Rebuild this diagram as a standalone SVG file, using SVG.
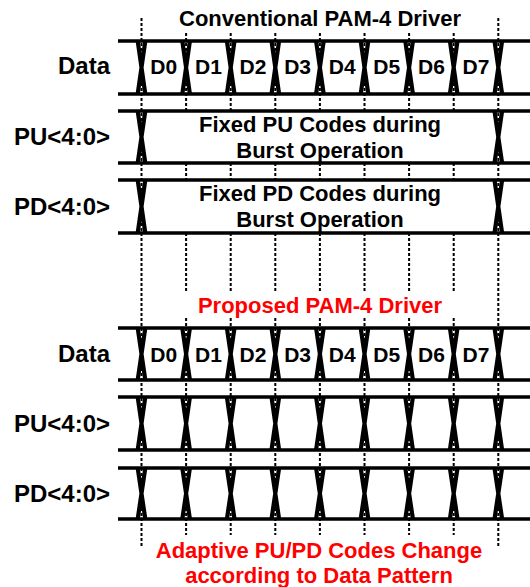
<svg xmlns="http://www.w3.org/2000/svg" width="530" height="587" viewBox="0 0 530 587">
  <style>
    text { font-family: "Liberation Sans", Arial, sans-serif; font-weight: bold; }
    .title { font-size: 22px; text-anchor: middle; fill: #000; }
    .red { fill: #FF0000; }
    .sig { font-size: 24px; text-anchor: end; fill: #000; }
    .sym { font-size: 21px; text-anchor: middle; fill: #000; }
    .note { font-size: 22px; text-anchor: middle; fill: #000; }
    .rail { stroke: #000; stroke-width: 3.5; fill: none; }
    .cross { stroke: #000; stroke-width: 4.2; fill: none; }
    .tick { stroke: #000; stroke-width: 2; stroke-dasharray: 3 2; fill: none; }
  </style>
  <rect width="530" height="587" fill="#fff"/>

  <!-- timing markers (dashed unit-interval boundaries) -->
  <g id="connectors">
    <path class="tick" d="M141.5 18V546 M498.3 18V546"/>
    <path class="tick" d="M186.1 33V111 M186.1 163V180 M186.1 233V292 M186.1 318V535"/>
    <path class="tick" d="M230.7 33V111 M230.7 163V180 M230.7 233V292 M230.7 318V535"/>
    <path class="tick" d="M275.3 33V111 M275.3 163V180 M275.3 233V292 M275.3 318V535"/>
    <path class="tick" d="M319.9 33V111 M319.9 163V180 M319.9 233V292 M319.9 318V535"/>
    <path class="tick" d="M364.5 33V111 M364.5 163V180 M364.5 233V292 M364.5 318V535"/>
    <path class="tick" d="M409.1 33V111 M409.1 163V180 M409.1 233V292 M409.1 318V535"/>
    <path class="tick" d="M453.7 33V111 M453.7 163V180 M453.7 233V292 M453.7 318V535"/>
  </g>

  <!-- conventional driver -->
  <g id="title-conventional">
    <text class="title" x="320" y="26">Conventional PAM-4 Driver</text>
  </g>

  <g id="conv-data">
    <text class="sig" x="110" y="74">Data</text>
    <path class="rail" d="M118 41H530 M118 94H530"/>
    <path class="cross" d="M137.7 41L145.3 94M145.3 41L137.7 94 M182.3 41L189.9 94M189.9 41L182.3 94 M226.9 41L234.5 94M234.5 41L226.9 94 M271.5 41L279.1 94M279.1 41L271.5 94 M316.1 41L323.7 94M323.7 41L316.1 94 M360.7 41L368.3 94M368.3 41L360.7 94 M405.3 41L412.9 94M412.9 41L405.3 94 M449.9 41L457.5 94M457.5 41L449.9 94 M494.5 41L502.1 94M502.1 41L494.5 94"/>
    <text class="sym" x="163.8" y="74">D0</text>
    <text class="sym" x="208.4" y="74">D1</text>
    <text class="sym" x="253" y="74">D2</text>
    <text class="sym" x="297.6" y="74">D3</text>
    <text class="sym" x="342.2" y="74">D4</text>
    <text class="sym" x="386.8" y="74">D5</text>
    <text class="sym" x="431.4" y="74">D6</text>
    <text class="sym" x="476" y="74">D7</text>
  </g>

  <g id="conv-pu">
    <text class="sig" x="110" y="145">PU&lt;4:0&gt;</text>
    <path class="rail" d="M118 111H530 M118 163H530"/>
    <path class="cross" d="M137.7 111L145.3 163M145.3 111L137.7 163 M494.5 111L502.1 163M502.1 111L494.5 163"/>
    <text class="note" x="320" y="132">Fixed PU Codes during</text>
    <text class="note" x="320" y="158">Burst Operation</text>
  </g>

  <g id="conv-pd">
    <text class="sig" x="110" y="215">PD&lt;4:0&gt;</text>
    <path class="rail" d="M118 180H530 M118 233H530"/>
    <path class="cross" d="M137.7 180L145.3 233M145.3 180L137.7 233 M494.5 180L502.1 233M502.1 180L494.5 233"/>
    <text class="note" x="320" y="201">Fixed PD Codes during</text>
    <text class="note" x="320" y="227">Burst Operation</text>
  </g>

  <!-- proposed driver -->
  <g id="title-proposed">
    <text class="title red" x="320" y="313">Proposed PAM-4 Driver</text>
  </g>

  <g id="prop-data">
    <text class="sig" x="110" y="362">Data</text>
    <path class="rail" d="M118 328H530 M118 380H530"/>
    <path class="cross" d="M137.7 328L145.3 380M145.3 328L137.7 380 M182.3 328L189.9 380M189.9 328L182.3 380 M226.9 328L234.5 380M234.5 328L226.9 380 M271.5 328L279.1 380M279.1 328L271.5 380 M316.1 328L323.7 380M323.7 328L316.1 380 M360.7 328L368.3 380M368.3 328L360.7 380 M405.3 328L412.9 380M412.9 328L405.3 380 M449.9 328L457.5 380M457.5 328L449.9 380 M494.5 328L502.1 380M502.1 328L494.5 380"/>
    <text class="sym" x="163.8" y="362">D0</text>
    <text class="sym" x="208.4" y="362">D1</text>
    <text class="sym" x="253" y="362">D2</text>
    <text class="sym" x="297.6" y="362">D3</text>
    <text class="sym" x="342.2" y="362">D4</text>
    <text class="sym" x="386.8" y="362">D5</text>
    <text class="sym" x="431.4" y="362">D6</text>
    <text class="sym" x="476" y="362">D7</text>
  </g>

  <g id="prop-pu">
    <text class="sig" x="110" y="432">PU&lt;4:0&gt;</text>
    <path class="rail" d="M118 397H530 M118 450H530"/>
    <path class="cross" d="M137.7 397L145.3 450M145.3 397L137.7 450 M182.3 397L189.9 450M189.9 397L182.3 450 M226.9 397L234.5 450M234.5 397L226.9 450 M271.5 397L279.1 450M279.1 397L271.5 450 M316.1 397L323.7 450M323.7 397L316.1 450 M360.7 397L368.3 450M368.3 397L360.7 450 M405.3 397L412.9 450M412.9 397L405.3 450 M449.9 397L457.5 450M457.5 397L449.9 450 M494.5 397L502.1 450M502.1 397L494.5 450"/>
  </g>

  <g id="prop-pd">
    <text class="sig" x="110" y="502">PD&lt;4:0&gt;</text>
    <path class="rail" d="M118 468H530 M118 519H530"/>
    <path class="cross" d="M137.7 468L145.3 519M145.3 468L137.7 519 M182.3 468L189.9 519M189.9 468L182.3 519 M226.9 468L234.5 519M234.5 468L226.9 519 M271.5 468L279.1 519M279.1 468L271.5 519 M316.1 468L323.7 519M323.7 468L316.1 519 M360.7 468L368.3 519M368.3 468L360.7 519 M405.3 468L412.9 519M412.9 468L405.3 519 M449.9 468L457.5 519M457.5 468L449.9 519 M494.5 468L502.1 519M502.1 468L494.5 519"/>
  </g>

  <g id="caption-proposed">
    <text class="title red" x="319" y="558">Adaptive PU/PD Codes Change</text>
    <text class="title red" x="319" y="583">according to Data Pattern</text>
  </g>
</svg>
